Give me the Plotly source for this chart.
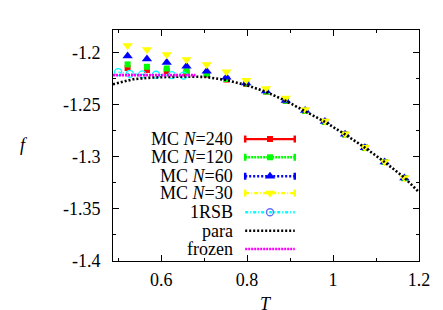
import plotly.graph_objects as go

# ---------------- data ----------------
T_mc = [0.522, 0.567, 0.613, 0.659, 0.706, 0.752, 0.798, 0.844, 0.890, 0.935,
        0.981, 1.028, 1.074, 1.120, 1.166]
f_N240 = [-1.2150, -1.2168, -1.2180, -1.2195, -1.2212, -1.2260, -1.2303, -1.2375,
          -1.2464, -1.2561, -1.2666, -1.2786, -1.2913, -1.3051, -1.3205]
f_N120 = [-1.2115, -1.2138, -1.2154, -1.2180, -1.2207, -1.2255, -1.2298, -1.2375,
          -1.2464, -1.2561, -1.2666, -1.2786, -1.2913, -1.3051, -1.3205]
f_N60 = [-1.2034, -1.2064, -1.2096, -1.2132, -1.2180, -1.2238, -1.2293, -1.2370,
         -1.2462, -1.2558, -1.2663, -1.2784, -1.2913, -1.3051, -1.3205]
f_N30 = [-1.1933, -1.1971, -1.2019, -1.2067, -1.2115, -1.2186, -1.2266, -1.2346,
         -1.2436, -1.2548, -1.2657, -1.2779, -1.2909, -1.3048, -1.3202]

T_1rsb = [0.500, 0.527, 0.556, 0.588, 0.625, 0.652]
f_1rsb = [-1.2188, -1.2205, -1.2210, -1.2214, -1.2218, -1.2222]

T_para = [0.488, 0.535, 0.580, 0.612, 0.660, 0.705, 0.753, 0.799, 0.844, 0.890,
          0.935, 0.981, 1.028, 1.074, 1.120, 1.167, 1.200]
f_para = [-1.2305, -1.2257, -1.2240, -1.2234, -1.2231, -1.2236, -1.2266, -1.2314,
          -1.2378, -1.2464, -1.2561, -1.2666, -1.2786, -1.2913, -1.3051, -1.3205,
          -1.3340]

T_frozen = [0.488, 0.680]
f_frozen = [-1.2218, -1.2218]

legend_labels = ["MC <i>N</i>=240", "MC <i>N</i>=120", "MC <i>N</i>=60", "MC <i>N</i>=30",
                 "1RSB", "para", "frozen"]

x_ticks = [0.6, 0.8, 1.0, 1.2]
x_tick_text = ["0.6", "0.8", "1", "1.2"]
y_ticks = [-1.2, -1.25, -1.3, -1.35, -1.4]
y_tick_text = ["-1.2", "-1.25", "-1.3", "-1.35", "-1.4"]

FONT = "Liberation Serif"

# ---------------- styles ----------------
styles = [
    dict(color="#ff0000", dash="solid", symbol="square", size=6),
    dict(color="#00ff00", dash="2px,1px", symbol="square", size=6),
    dict(color="#0000ff", dash="2px,2px", symbol="triangle-up", size=9),
    dict(color="#ffff00", dash="4px,2px,1px,2px", symbol="triangle-down", size=9),
    dict(color="#00ffff", dash="3px,2px,1px,2px", symbol="circle-open", size=7),
    dict(color="#000000", dash="2px,2px", symbol=None, size=0),
    dict(color="#ff00ff", dash="2px,1px", symbol=None, size=0),
]

W, H = 443, 310
ml, mr, mt, mb = 105, 32, 22, 57
pw, ph = W - ml - mr, H - mt - mb

fig = go.Figure()

# MC data in key order (later ones drawn on top, as in gnuplot)
for f, st in [(f_N240, styles[0]), (f_N120, styles[1]), (f_N60, styles[2]), (f_N30, styles[3])]:
    fig.add_trace(go.Scatter(x=T_mc, y=f, mode="markers",
                             marker=dict(symbol=st["symbol"], size=st["size"],
                                         color=st["color"], line=dict(width=0)),
                             showlegend=False))
# 1RSB
fig.add_trace(go.Scatter(x=T_1rsb, y=f_1rsb, mode="lines+markers",
                         line=dict(color="#00ffff", width=1.2, dash="3px,2px,1px,2px"),
                         marker=dict(symbol="circle-open", size=7,
                                     line=dict(color="#00ffff", width=1.3)),
                         showlegend=False))
# para curve
fig.add_trace(go.Scatter(x=T_para, y=f_para, mode="lines",
                         line=dict(color="#000000", width=2.6, dash="2px,2px"),
                         showlegend=False))
# frozen
fig.add_trace(go.Scatter(x=T_frozen, y=f_frozen, mode="lines",
                         line=dict(color="#ff00ff", width=2.6, dash="2px,1px"),
                         showlegend=False))

# ---------------- custom key (gnuplot style) ----------------
row_y = [0.528, 0.449, 0.367, 0.294, 0.211, 0.131, 0.052]
x_l, x_m, x_r, x_txt = 0.432, 0.513, 0.594, 0.398
for lab, st, yy in zip(legend_labels, styles, row_y):
    fig.add_trace(go.Scatter(x=[x_l, x_r], y=[yy, yy], mode="lines",
                             xaxis="x2", yaxis="y2",
                             line=dict(color=st["color"], width=2.2 if st["dash"] == "solid" else 2.4,
                                       dash=st["dash"]),
                             showlegend=False, hoverinfo="skip"))
    if st["symbol"] is not None:
        if st["symbol"] != "circle-open":
            fig.add_trace(go.Scatter(x=[x_l, x_r], y=[yy, yy], mode="markers",
                                     xaxis="x2", yaxis="y2",
                                     marker=dict(symbol="line-ns", size=5,
                                                 line=dict(color=st["color"], width=2.5)),
                                     showlegend=False, hoverinfo="skip"))
        mk = dict(symbol=st["symbol"], size=st["size"], color=st["color"], line=dict(width=0))
        if st["symbol"] == "circle-open":
            mk = dict(symbol="circle-open", size=7, line=dict(color=st["color"], width=1.3))
        fig.add_trace(go.Scatter(x=[x_m], y=[yy], mode="markers",
                                 xaxis="x2", yaxis="y2", marker=mk,
                                 showlegend=False, hoverinfo="skip"))
    fig.add_annotation(x=x_txt, y=yy, xref="x2", yref="y2", text=lab,
                       showarrow=False, xanchor="right", yanchor="middle",
                       font=dict(family=FONT, size=18, color="black"))

# axis titles (pixel positions converted to paper coordinates)
fig.add_annotation(x=(16 - ml) / pw, y=(H - mb - 137) / ph, xref="paper", yref="paper",
                   text="<i>f</i>", showarrow=False, xanchor="center", yanchor="middle",
                   font=dict(family=FONT, size=18, color="black"))
fig.add_annotation(x=(258 - ml) / pw, y=(H - mb - 307) / ph, xref="paper", yref="paper",
                   text="<i>T</i>", showarrow=False, xanchor="center", yanchor="bottom",
                   borderpad=0,
                   font=dict(family=FONT, size=18, color="black"))

axis_common = dict(showgrid=False, zeroline=False, showline=True, linecolor="black",
                   linewidth=1, mirror="allticks", ticks="inside", ticklen=6,
                   tickcolor="black", tickwidth=1, automargin=False,
                   tickfont=dict(family=FONT, size=18, color="black"))

fig.update_layout(
    width=W, height=H,
    margin=dict(l=ml, r=mr, t=mt, b=mb, autoexpand=False),
    paper_bgcolor="white", plot_bgcolor="white",
    showlegend=False,
    xaxis=dict(range=[0.488, 1.2], tickvals=x_ticks, ticktext=x_tick_text,
               minor=dict(ticks="inside", ticklen=3, dtick=0.1, tick0=0.5, tickcolor="black"),
               ticklabelstandoff=2, **axis_common),
    yaxis=dict(range=[-1.4, -1.1785], tickvals=y_ticks, ticktext=y_tick_text,
               minor=dict(ticks="inside", ticklen=3, dtick=0.025, tick0=-1.4, tickcolor="black"),
               ticklabelstandoff=8, **axis_common),
    xaxis2=dict(range=[0, 1], overlaying="x", visible=False, fixedrange=True),
    yaxis2=dict(range=[0, 1], overlaying="y", visible=False, fixedrange=True),
)

fig.write_html("out.html")
